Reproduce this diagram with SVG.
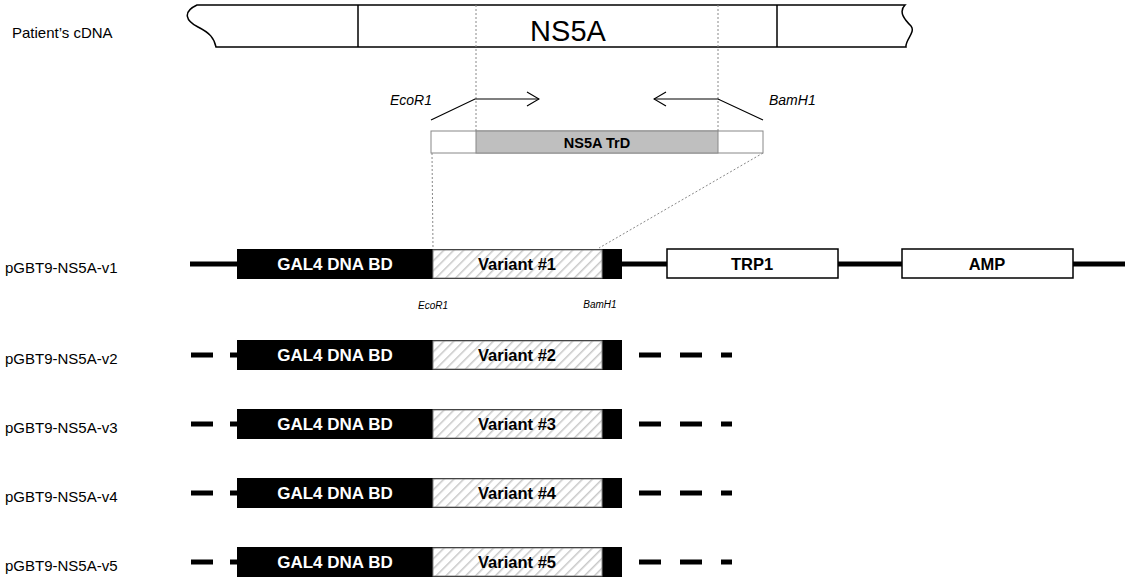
<svg xmlns="http://www.w3.org/2000/svg" width="1125" height="578" viewBox="0 0 1125 578">
<defs>
<pattern id="hatch" patternUnits="userSpaceOnUse" width="7" height="7" patternTransform="rotate(45)">
<rect width="7" height="7" fill="#fff"/>
<line x1="0" y1="0" x2="0" y2="7" stroke="#c8c8c8" stroke-width="3"/>
</pattern>
<marker id="open" markerWidth="14" markerHeight="16" refX="13" refY="8" orient="auto" markerUnits="userSpaceOnUse">
<path d="M1,1 L13,8 L1,15" fill="none" stroke="#000" stroke-width="1.2"/>
</marker>
</defs>
<style>
.lbl{font-family:"Liberation Sans",Arial,sans-serif;font-size:15px;fill:#000}
.wt{font-family:"Liberation Sans",Arial,sans-serif;font-size:17px;font-weight:bold;fill:#fff;text-anchor:middle}
.bt{font-family:"Liberation Sans",Arial,sans-serif;font-size:16.5px;font-weight:bold;fill:#000;text-anchor:middle}
.it{font-family:"Liberation Sans",Arial,sans-serif;font-style:italic;font-size:14px;fill:#000}
.sit{font-family:"Liberation Sans",Arial,sans-serif;font-style:italic;font-size:10px;fill:#000;text-anchor:middle}
.gal{fill:#000}
.var{fill:url(#hatch);stroke:#888;stroke-width:1}
.plas{stroke:#000;stroke-width:5;fill:none}
.box{fill:#fff;stroke:#000;stroke-width:1.5}
.dot{stroke:#888;stroke-width:1;stroke-dasharray:2,2;fill:none}
</style>

<g id="cdna">
<path d="M197,5 L905,5 C898,12 905,20 911,26 C916,32 905,40 906,47 L216,47 C214,38 210,33 198,27 C186,21 182,12 197,5 Z" fill="#fff" stroke="#000" stroke-width="1.5"/>
<line x1="358" y1="5" x2="358" y2="47" stroke="#000" stroke-width="1.5"/>
<line x1="777" y1="5" x2="777" y2="47" stroke="#000" stroke-width="1.5"/>
<text x="568" y="41" font-family="'Liberation Sans',Arial,sans-serif" font-size="29" text-anchor="middle">NS5A</text>
</g>
<text class="lbl" x="12" y="38">Patient’s cDNA</text>

<g id="connectors">
<line class="dot" x1="476" y1="5" x2="476" y2="131"/>
<line class="dot" x1="718" y1="5" x2="718" y2="131"/>
<line class="dot" x1="432" y1="153" x2="433" y2="248"/>
<line class="dot" x1="763" y1="153" x2="599" y2="248"/>
<path d="M431,120 L475,99 L539,99" fill="none" stroke="#000" stroke-width="1.2" marker-end="url(#open)"/>
<path d="M763,120 L718,99 L654,99" fill="none" stroke="#000" stroke-width="1.2" marker-end="url(#open)"/>
</g>
<text class="it" x="432" y="105" text-anchor="end">EcoR1</text>
<text class="it" x="769" y="105">BamH1</text>

<g id="trd">
<rect x="431" y="131" width="332" height="22" fill="#fff" stroke="#888" stroke-width="1"/>
<rect x="476" y="131" width="242" height="22" fill="#bfbfbf" stroke="#888" stroke-width="1"/>
<text x="597" y="148" font-family="'Liberation Sans',Arial,sans-serif" font-size="14.5" font-weight="bold" text-anchor="middle">NS5A TrD</text>
</g>

<g id="v1">
<text class="lbl" x="5" y="273">pGBT9-NS5A-v1</text>
<line class="plas" x1="190" y1="264" x2="1125" y2="264"/>
<rect class="gal" x="237" y="249" width="385" height="30"/>
<rect class="var" x="433" y="250" width="169" height="28"/>
<text class="wt" x="335" y="270">GAL4 DNA BD</text>
<text class="bt" x="517" y="270">Variant #1</text>
<rect class="box" x="667" y="249" width="171" height="29"/>
<text class="bt" x="752" y="270">TRP1</text>
<rect class="box" x="902" y="249" width="171" height="29"/>
<text class="bt" x="987" y="270">AMP</text>
<text class="sit" x="433" y="309">EcoR1</text>
<text class="sit" x="600" y="308">BamH1</text>
</g>

<g id="v2" transform="translate(0,91)">
<text class="lbl" x="5" y="273">pGBT9-NS5A-v2</text>
<path class="plas" d="M191,264 H213 M230,264 H237 M639,264 H661 M680,264 H702 M721,264 H732"/>
<rect class="gal" x="237" y="249" width="385" height="30"/>
<rect class="var" x="433" y="250" width="169" height="28"/>
<text class="wt" x="335" y="270">GAL4 DNA BD</text>
<text class="bt" x="517" y="270">Variant #2</text>
</g>

<g id="v3" transform="translate(0,160)">
<text class="lbl" x="5" y="273">pGBT9-NS5A-v3</text>
<path class="plas" d="M191,264 H213 M230,264 H237 M639,264 H661 M680,264 H702 M721,264 H732"/>
<rect class="gal" x="237" y="249" width="385" height="30"/>
<rect class="var" x="433" y="250" width="169" height="28"/>
<text class="wt" x="335" y="270">GAL4 DNA BD</text>
<text class="bt" x="517" y="270">Variant #3</text>
</g>

<g id="v4" transform="translate(0,229)">
<text class="lbl" x="5" y="273">pGBT9-NS5A-v4</text>
<path class="plas" d="M191,264 H213 M230,264 H237 M639,264 H661 M680,264 H702 M721,264 H732"/>
<rect class="gal" x="237" y="249" width="385" height="30"/>
<rect class="var" x="433" y="250" width="169" height="28"/>
<text class="wt" x="335" y="270">GAL4 DNA BD</text>
<text class="bt" x="517" y="270">Variant #4</text>
</g>

<g id="v5" transform="translate(0,298)">
<text class="lbl" x="5" y="273">pGBT9-NS5A-v5</text>
<path class="plas" d="M191,264 H213 M230,264 H237 M639,264 H661 M680,264 H702 M721,264 H732"/>
<rect class="gal" x="237" y="249" width="385" height="30"/>
<rect class="var" x="433" y="250" width="169" height="28"/>
<text class="wt" x="335" y="270">GAL4 DNA BD</text>
<text class="bt" x="517" y="270">Variant #5</text>
</g>
</svg>
